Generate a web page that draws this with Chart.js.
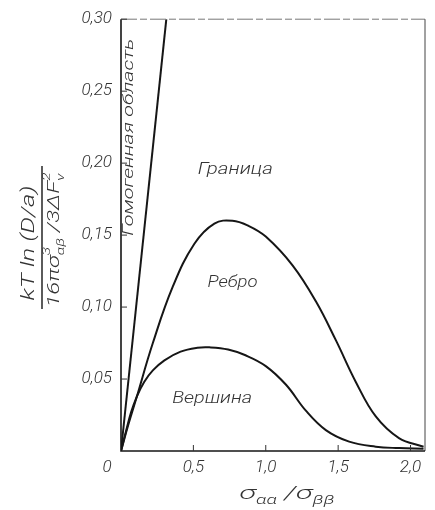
<!DOCTYPE html>
<html>
<head>
<meta charset="utf-8">
<script src="https://cdn.jsdelivr.net/npm/chart.js@4.4.1/dist/chart.umd.min.js"></script>
<style>
    html, body { margin: 0; padding: 0; background: #fff; }
    #wrap { width: 435px; height: 510px; }
</style>
</head>
<body>
<div id="wrap"><canvas id="chart" width="435" height="510"></canvas></div>
<script>
// Values
const xTicks = [0, 0.5, 1.0, 1.5, 2.0];
const yTicks = [0.05, 0.10, 0.15, 0.20, 0.25, 0.30];

// Гомогенная область boundary (straight line)
const homogX = [0, 0.313];
const homogY = [0, 0.30];

// Ребро (upper curve)
const ridgeX = [0, 0.05, 0.107, 0.22, 0.357, 0.507, 0.645, 0.77, 0.88, 1.0, 1.185, 1.346, 1.484, 1.622, 1.76, 1.92, 2.09];
const ridgeY = [0, 0.018, 0.037, 0.075, 0.114, 0.144, 0.158, 0.160, 0.1565, 0.149, 0.129, 0.104, 0.077, 0.048, 0.024, 0.009, 0.003];

// Вершина (lower curve)
const vertexX = [0, 0.03, 0.07, 0.11, 0.16, 0.22, 0.30, 0.412, 0.528, 0.61, 0.74, 0.86, 1.0, 1.14, 1.277, 1.415, 1.576, 1.76, 1.92, 2.09];
const vertexY = [0, 0.012, 0.027, 0.038, 0.048, 0.056, 0.063, 0.069, 0.0717, 0.072, 0.0705, 0.0665, 0.059, 0.046, 0.028, 0.0145, 0.0065, 0.003, 0.002, 0.0015];

const FONT = "Roboto, 'DejaVu Sans', sans-serif";
const INK = '#161616';
const TEXT = '#333';

function toPoints(xs, ys) {
    return xs.map((x, i) => ({ x: x, y: ys[i] }));
}

function comma(v, digits) {
    return v.toFixed(digits).replace('.', ',');
}

// Measure / draw a run list: {t} normal, {sup, sub} stacked small scripts
function runsWidth(ctx, runs, size) {
    let w = 0;
    runs.forEach(r => {
        if (r.t) {
            ctx.font = `italic 300 ${size}px ${FONT}`;
            w += ctx.measureText(r.t).width;
        } else {
            ctx.font = `italic 300 ${Math.round(size * 0.65)}px ${FONT}`;
            w += Math.max(ctx.measureText(r.sup || '').width, ctx.measureText(r.sub || '').width);
        }
    });
    return w;
}

function drawRuns(ctx, runs, size, x) {
    runs.forEach(r => {
        if (r.t) {
            ctx.font = `italic 300 ${size}px ${FONT}`;
            ctx.fillText(r.t, x, 0);
            x += ctx.measureText(r.t).width;
        } else {
            ctx.font = `italic 300 ${Math.round(size * 0.65)}px ${FONT}`;
            if (r.sup) ctx.fillText(r.sup, x, -size * 0.45);
            if (r.sub) ctx.fillText(r.sub, x, size * 0.35);
            x += Math.max(ctx.measureText(r.sup || '').width, ctx.measureText(r.sub || '').width);
        }
    });
}

// Draw runs centred at (cx, cy), stretched to a given width, optionally rotated
function drawFitted(ctx, runs, size, cx, cy, width, angle) {
    const w = runsWidth(ctx, runs, size);
    ctx.save();
    ctx.translate(cx, cy);
    if (angle) ctx.rotate(angle);
    ctx.scale(width / w, 1);
    ctx.textBaseline = 'middle';
    ctx.textAlign = 'left';
    drawRuns(ctx, runs, size, -w / 2);
    ctx.restore();
}

// Frame, inward ticks and all free text
const decorPlugin = {
    id: 'decor',
    afterDraw(chart) {
        const ctx = chart.ctx;
        const a = chart.chartArea;
        const xs = chart.scales.x;
        const ys = chart.scales.y;

        ctx.save();
        // top edge, broken grey line
        ctx.strokeStyle = '#777';
        ctx.lineWidth = 1;
        ctx.setLineDash([16, 3, 7, 3]);
        ctx.beginPath();
        ctx.moveTo(a.left, a.top);
        ctx.lineTo(a.right, a.top);
        ctx.stroke();
        ctx.setLineDash([]);

        // right edge
        ctx.strokeStyle = '#444';
        ctx.beginPath();
        ctx.moveTo(a.right, a.top);
        ctx.lineTo(a.right, a.bottom);
        ctx.stroke();

        // left and bottom axes
        ctx.strokeStyle = INK;
        ctx.lineWidth = 1.6;
        ctx.beginPath();
        ctx.moveTo(a.left, a.top);
        ctx.lineTo(a.left, a.bottom);
        ctx.lineTo(a.right, a.bottom);
        ctx.stroke();

        // inward ticks
        ctx.lineWidth = 1;
        ctx.strokeStyle = '#333';
        ctx.beginPath();
        yTicks.forEach(v => {
            const py = ys.getPixelForValue(v);
            ctx.moveTo(a.left, py);
            ctx.lineTo(a.left + 6, py);
        });
        xTicks.forEach(v => {
            if (v === 0) return;
            const px = xs.getPixelForValue(v);
            ctx.moveTo(px, a.bottom);
            ctx.lineTo(px, a.bottom - 6);
        });
        ctx.stroke();

        ctx.fillStyle = TEXT;

        // origin label, set a little left of the corner as in the original
        ctx.font = `italic 300 17px ${FONT}`;
        ctx.textAlign = 'center';
        ctx.textBaseline = 'middle';
        ctx.fillText('0', a.left - 14, a.bottom + 17);

        // region labels
        drawFitted(ctx, [{ t: 'Граница' }], 16, xs.getPixelForValue(0.79), ys.getPixelForValue(0.195), 75, 0);
        drawFitted(ctx, [{ t: 'Ребро' }], 16, xs.getPixelForValue(0.77), ys.getPixelForValue(0.117), 50, 0);
        drawFitted(ctx, [{ t: 'Вершина' }], 16, xs.getPixelForValue(0.63), ys.getPixelForValue(0.036), 80, 0);
        drawFitted(ctx, [{ t: 'Гомогенная область' }], 15, xs.getPixelForValue(0.058), ys.getPixelForValue(0.218), 197, -Math.PI / 2);

        // x axis title
        drawFitted(ctx, [
            { t: 'σ' }, { sub: 'αα' }, { t: ' /σ' }, { sub: 'ββ' }
        ], 19, 287, 494, 95, 0);

        // y axis title: rotated fraction
        ctx.save();
        ctx.translate(42, 238);
        ctx.rotate(-Math.PI / 2);
        ctx.strokeStyle = INK;
        ctx.lineWidth = 1.4;
        ctx.beginPath();
        ctx.moveTo(-71, 0);
        ctx.lineTo(72, 0);
        ctx.stroke();
        ctx.restore();
        drawFitted(ctx, [{ t: 'kT ln (D/a)' }], 18, 29, 243, 115, -Math.PI / 2);
        drawFitted(ctx, [
            { t: '16πσ' }, { sup: '3', sub: 'αβ' }, { t: ' /3ΔF' }, { sup: '2', sub: 'v' }
        ], 17, 55, 240, 135, -Math.PI / 2);

        ctx.restore();
    }
};

const lineStyle = {
    showLine: true,
    borderColor: INK,
    borderWidth: 2,
    pointRadius: 0,
    fill: false,
    tension: 0.4
};

new Chart(document.getElementById('chart').getContext('2d'), {
    type: 'scatter',
    data: {
        datasets: [
            Object.assign({ label: 'Гомогенная область', data: toPoints(homogX, homogY) }, lineStyle, { tension: 0 }),
            Object.assign({ label: 'Ребро', data: toPoints(ridgeX, ridgeY) }, lineStyle),
            Object.assign({ label: 'Вершина', data: toPoints(vertexX, vertexY) }, lineStyle)
        ]
    },
    options: {
        responsive: false,
        animation: false,
        layout: { padding: { top: 13, right: 10, left: 0, bottom: 0 } },
        plugins: {
            legend: { display: false },
            tooltip: { enabled: false }
        },
        scales: {
            x: {
                type: 'linear',
                min: 0,
                max: 2.1,
                grid: { display: false, drawTicks: false },
                border: { display: false },
                afterBuildTicks: scale => { scale.ticks = xTicks.map(v => ({ value: v })); },
                afterFit: scale => { scale.height = 59; },
                ticks: {
                    padding: 7,
                    color: TEXT,
                    font: { family: FONT, size: 17, style: 'italic', weight: 300 },
                    callback: v => (v === 0 ? '' : comma(v, 1))
                }
            },
            y: {
                type: 'linear',
                min: 0,
                max: 0.3,
                grid: { display: false, drawTicks: false },
                border: { display: false },
                afterBuildTicks: scale => { scale.ticks = yTicks.map(v => ({ value: v })); },
                afterFit: scale => { scale.width = 121; },
                ticks: {
                    padding: 9,
                    color: TEXT,
                    font: { family: FONT, size: 17, style: 'italic', weight: 300 },
                    callback: v => comma(v, 2)
                }
            }
        }
    },
    plugins: [decorPlugin]
});
</script>
</body>
</html>
